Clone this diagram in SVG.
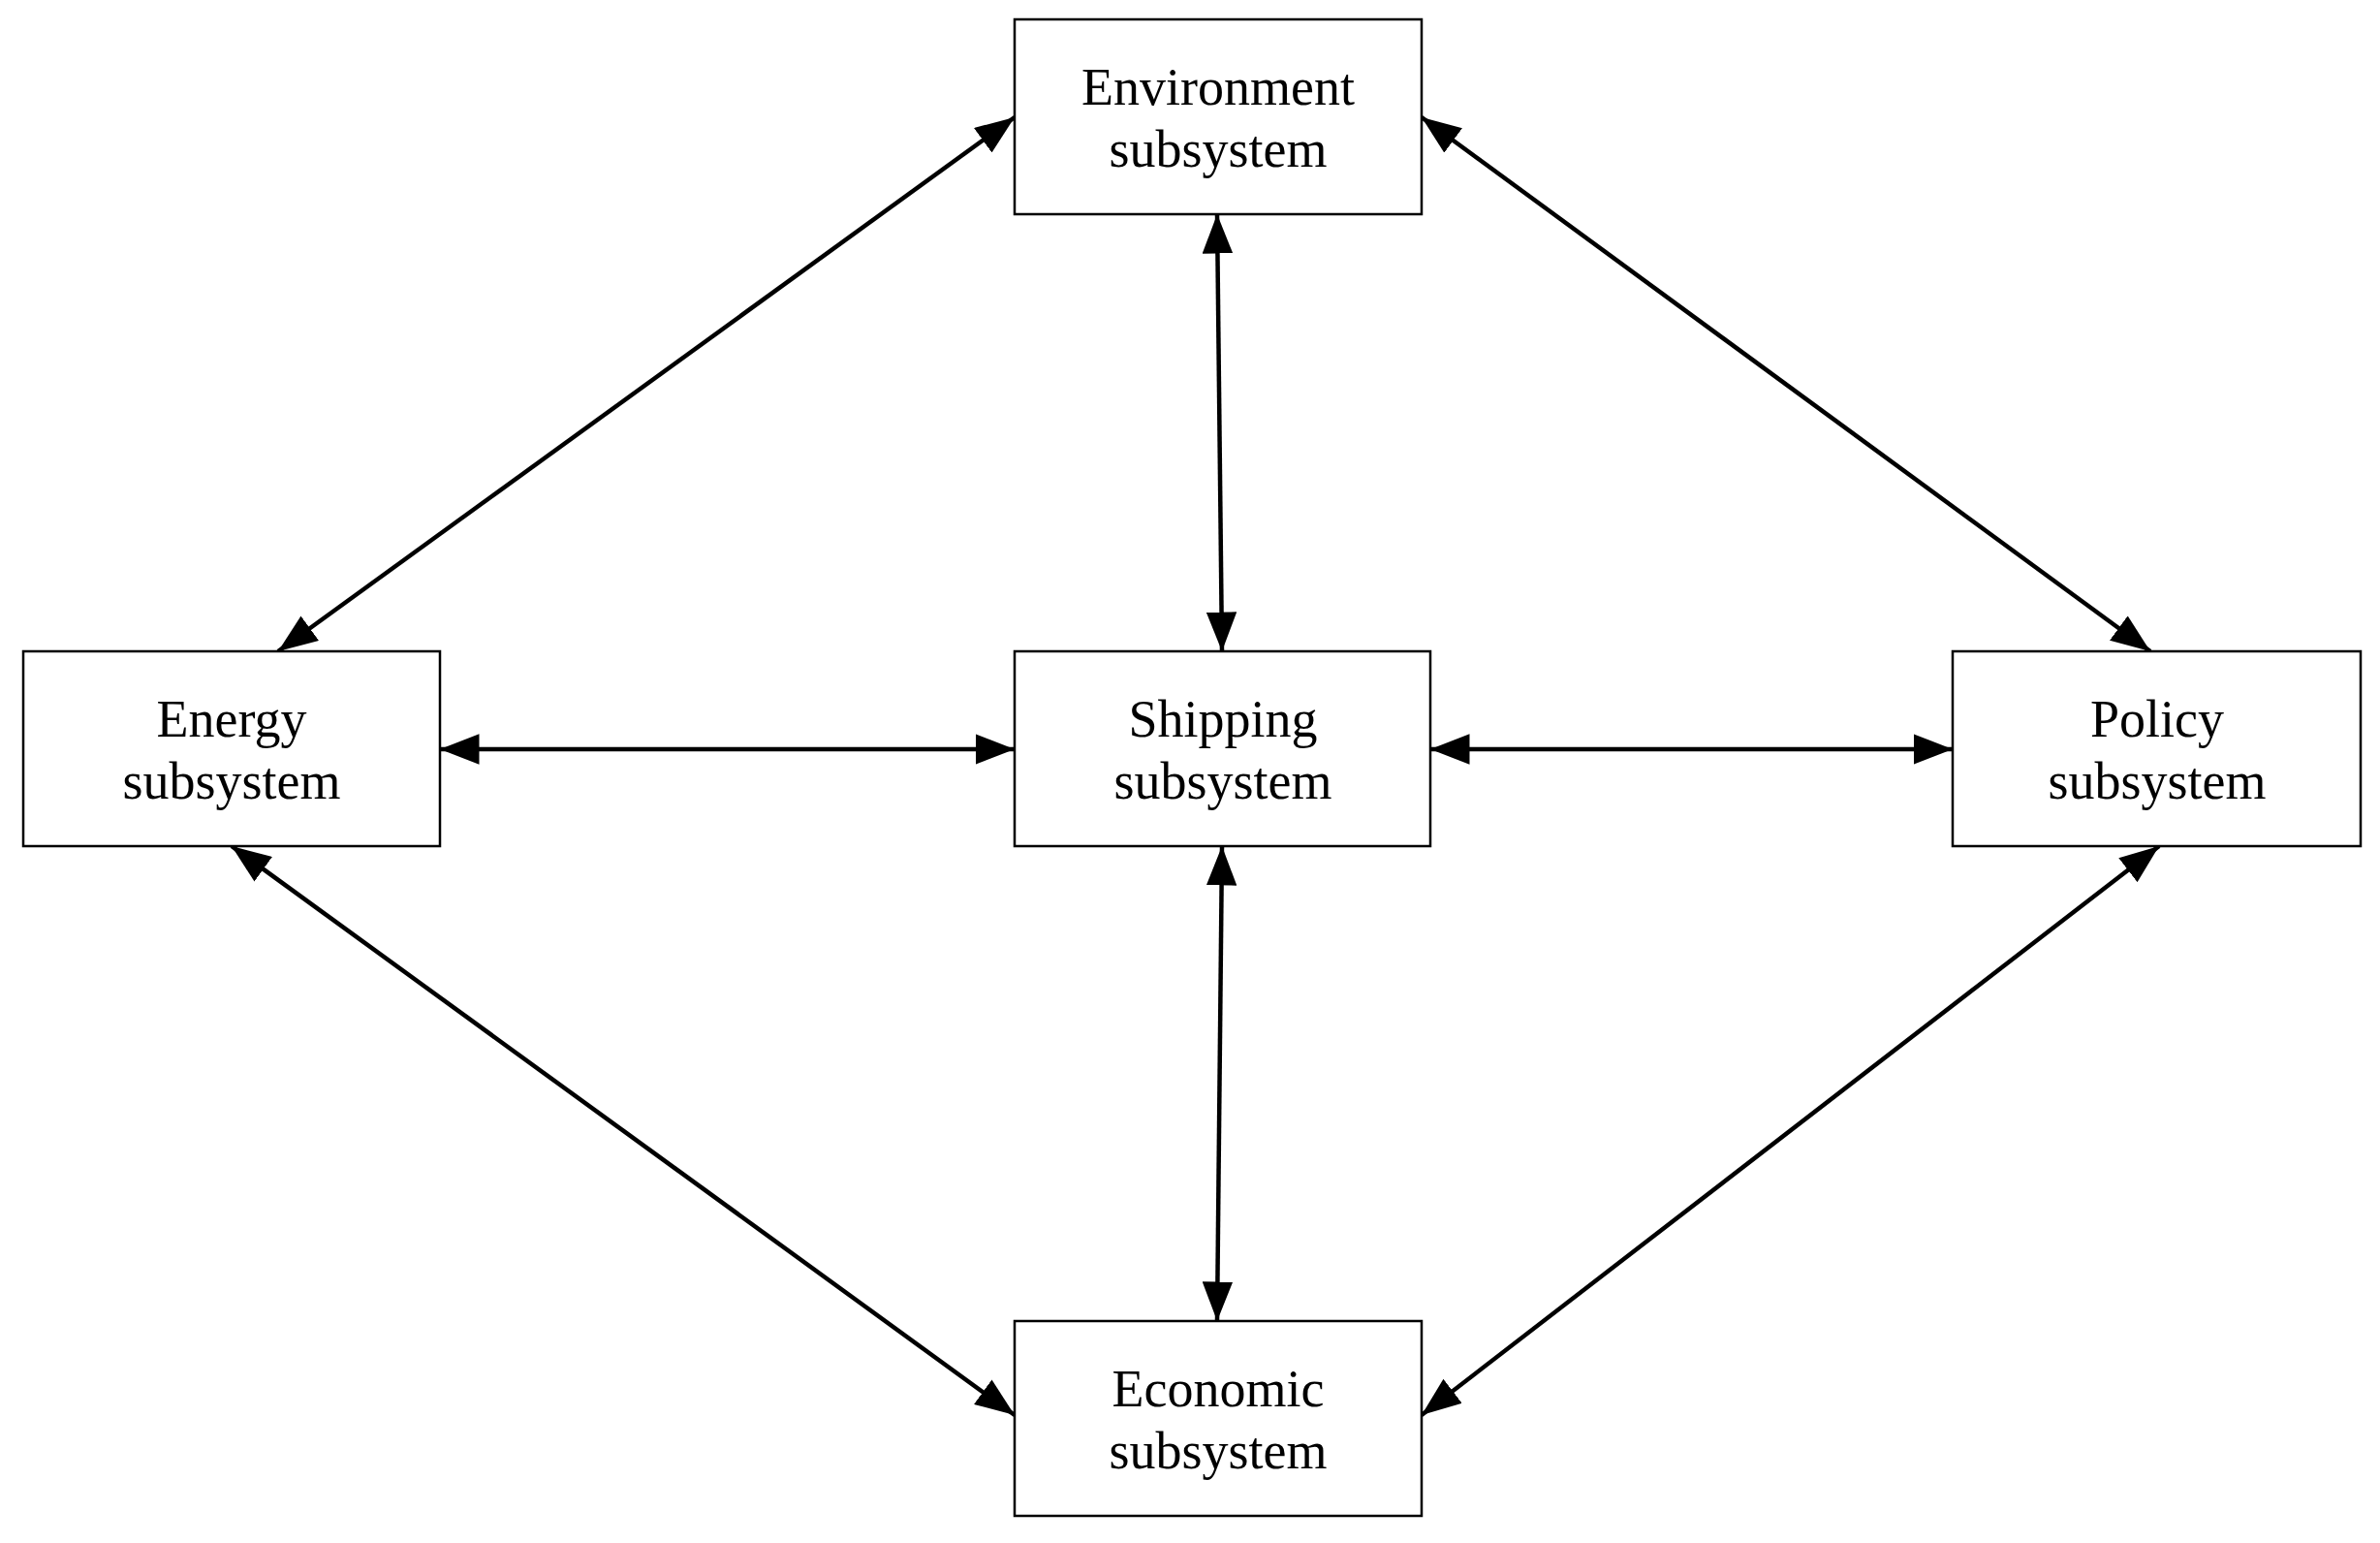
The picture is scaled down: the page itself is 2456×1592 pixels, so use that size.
<svg xmlns="http://www.w3.org/2000/svg" width="2456" height="1592" viewBox="0 0 2456 1592">
<style>
.box{fill:#fff;stroke:#000;stroke-width:2.5}
.t{font-family:"Liberation Serif",serif;font-size:54px;text-anchor:middle;fill:#000}
.c{stroke:#000;stroke-width:4.5;fill:none;marker-start:url(#a);marker-end:url(#a)}
</style>
<defs>
<marker id="a" viewBox="0 0 10 10" refX="10" refY="5" markerWidth="9" markerHeight="7" markerUnits="strokeWidth" orient="auto-start-reverse" preserveAspectRatio="none">
<path d="M0,0L10,5L0,10z" fill="#000"/>
</marker>
</defs>
<rect width="2456" height="1592" fill="#fff"/>
<g id="connectors">
<line class="c" x1="1047" y1="121" x2="287" y2="672"/>
<line class="c" x1="1467" y1="121" x2="2219" y2="672"/>
<line class="c" x1="1256" y1="221" x2="1261" y2="672"/>
<line class="c" x1="454" y1="773" x2="1047" y2="773"/>
<line class="c" x1="1476" y1="773" x2="2015" y2="773"/>
<line class="c" x1="1261" y1="873" x2="1256" y2="1363"/>
<line class="c" x1="239" y1="873" x2="1047" y2="1460"/>
<line class="c" x1="2228" y1="873" x2="1467" y2="1460"/>
</g>
<g id="environment"><rect class="box" x="1047" y="20" width="420" height="201"/><text class="t" x="1257" y="108">Environment</text><text class="t" x="1257" y="172">subsystem</text></g>
<g id="energy"><rect class="box" x="24" y="672" width="430" height="201"/><text class="t" x="239" y="760">Energy</text><text class="t" x="239" y="824">subsystem</text></g>
<g id="shipping"><rect class="box" x="1047" y="672" width="429" height="201"/><text class="t" x="1262" y="760">Shipping</text><text class="t" x="1262" y="824">subsystem</text></g>
<g id="policy"><rect class="box" x="2015" y="672" width="421" height="201"/><text class="t" x="2226" y="760">Policy</text><text class="t" x="2226" y="824">subsystem</text></g>
<g id="economic"><rect class="box" x="1047" y="1363" width="420" height="201"/><text class="t" x="1257" y="1451">Economic</text><text class="t" x="1257" y="1515">subsystem</text></g>
</svg>
